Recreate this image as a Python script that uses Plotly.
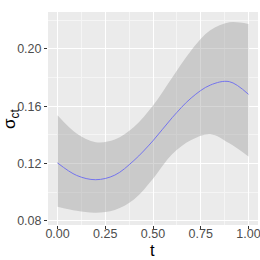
import plotly.graph_objects as go

t_vals = [0.0, 0.1, 0.2, 0.3, 0.4, 0.5, 0.6, 0.7, 0.8, 0.9, 1.0]
fit = [0.1205, 0.1118, 0.1088, 0.1120, 0.1222, 0.1360, 0.1520, 0.1658, 0.1748, 0.1772, 0.1684]
upper = [0.1537, 0.1410, 0.1350, 0.1368, 0.1455, 0.1605, 0.1800, 0.1990, 0.2130, 0.2187, 0.2175]
lower = [0.0900, 0.0872, 0.0858, 0.0877, 0.0950, 0.1095, 0.1265, 0.1365, 0.1405, 0.1342, 0.1250]

x_ticks = [0.0, 0.25, 0.5, 0.75, 1.0]
x_ticklabels = ["0.00", "0.25", "0.50", "0.75", "1.00"]
y_ticks = [0.08, 0.12, 0.16, 0.20]
y_ticklabels = ["0.08", "0.12", "0.16", "0.20"]

fig = go.Figure()
fig.add_trace(go.Scatter(x=t_vals, y=lower, mode="lines", line=dict(width=0, shape="spline", smoothing=1.0),
                         hoverinfo="skip", showlegend=False))
fig.add_trace(go.Scatter(x=t_vals, y=upper, mode="lines", line=dict(width=0, shape="spline", smoothing=1.0),
                         fill="tonexty", fillcolor="rgba(153,153,153,0.4)", hoverinfo="skip", showlegend=False))
fig.add_trace(go.Scatter(x=t_vals, y=fit, mode="lines",
                         line=dict(color="#7474EE", width=1, shape="spline", smoothing=1.0), showlegend=False))

font_family = "Liberation Sans, Arial, sans-serif"
fig.update_layout(
    width=260, height=260,
    margin=dict(l=48, r=2, t=12, b=35, autoexpand=False),
    paper_bgcolor="white", plot_bgcolor="#EBEBEB",
    font=dict(family=font_family, color="#4D4D4D", size=12),
)
fig.update_xaxes(
    range=[-0.05, 1.05], tickvals=x_ticks, ticktext=x_ticklabels,
    showgrid=True, gridcolor="white", gridwidth=1.1, zeroline=False,
    ticks="outside", ticklen=3, tickcolor="#333333", tickwidth=1,
    tickfont=dict(size=12.5, color="#4D4D4D"), ticklabelstandoff=-6,
    minor=dict(tickvals=[0.125, 0.375, 0.625, 0.875], showgrid=True, gridcolor="#F5F5F5", gridwidth=0.6, ticks=""),
    automargin=False, ticklabeloverflow="allow", showline=False,
)
fig.update_yaxes(
    range=[0.0772, 0.2258], tickvals=y_ticks, ticktext=y_ticklabels,
    showgrid=True, gridcolor="white", gridwidth=1.1, zeroline=False,
    ticks="outside", ticklen=3, tickcolor="#333333", tickwidth=1,
    tickfont=dict(size=12.5, color="#4D4D4D"),
    minor=dict(tickvals=[0.10, 0.14, 0.18, 0.22], showgrid=True, gridcolor="#F5F5F5", gridwidth=0.6, ticks=""),
    automargin=False, ticklabeloverflow="allow", showline=False,
)
fig.add_annotation(text="t", xref="paper", yref="paper", x=(152 - 48) / 210, y=(225 - 249.5) / 213,
                   showarrow=False, font=dict(size=16.5, color="black", family=font_family),
                   xanchor="center", yanchor="middle")
fig.add_annotation(text="σ<sub>ct</sub>", xref="paper", yref="paper", x=(11 - 48) / 210, y=(225 - 119) / 213,
                   showarrow=False, textangle=-90, font=dict(size=17, color="black", family=font_family),
                   xanchor="center", yanchor="middle")

fig.write_html("out.html", config={"displayModeBar": False},
               post_script="document.body.style.margin='0';document.body.style.overflow='hidden';")
